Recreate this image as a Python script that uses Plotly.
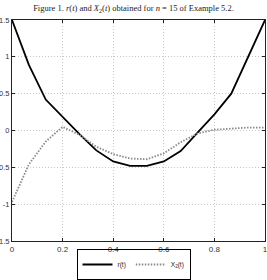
import plotly.graph_objects as go

t = [k / 15 for k in range(16)]
r_vals = [1.5, 0.89, 0.42, 0.18, -0.05, -0.27, -0.42, -0.48, -0.48, -0.42, -0.28, -0.03, 0.22, 0.5, 1.0, 1.5]
x2_vals = [-0.97, -0.46, -0.15, 0.05, -0.06, -0.22, -0.32, -0.38, -0.39, -0.31, -0.16, -0.04, 0.01, 0.03, 0.04, 0.04]
xticks = [0, 0.2, 0.4, 0.6, 0.8, 1]
yticks = [-1.5, -1, -0.5, 0, 0.5, 1, 1.5]

fig = go.Figure()
fig.add_trace(go.Scatter(x=t, y=r_vals, mode="lines", name="r(t)",
                         line=dict(color="black", width=1.8)))
fig.add_trace(go.Scatter(x=t, y=x2_vals, mode="lines", name="X<sub>2</sub>(t)",
                         line=dict(color="#8a8a8a", width=1.8, dash="1.5px,1.5px")))

axis_common = dict(showline=True, linecolor="#222", linewidth=1, mirror="allticks",
                   ticks="inside", ticklen=3, tickcolor="#222", automargin=False,
                   ticklabeloverflow="allow",
                   showgrid=True, gridcolor="#c8c8c8", griddash="1px,2px", gridwidth=1,
                   zeroline=False, tickfont=dict(family="Liberation Sans", size=8, color="#333"))

fig.update_xaxes(range=[0, 1], tickvals=xticks, ticktext=[f"{v:g}" for v in xticks], **axis_common)
fig.update_yaxes(range=[-1.5, 1.5], tickvals=yticks, ticktext=[f"{v:g}" for v in yticks], **axis_common)
fig.update_yaxes(tickfont=dict(size=7.5))

fig.update_layout(
    width=267, height=280,
    margin=dict(l=12, r=2, t=20, b=39, autoexpand=False),
    plot_bgcolor="white", paper_bgcolor="white",
    title=dict(text="Figure 1. <i>r</i>(<i>t</i>) and <i>X</i><sub>2</sub>(<i>t</i>) obtained for <i>n</i> = 15 of Example 5.2.",
               x=0.5, xanchor="center", y=0.972, yanchor="middle",
               font=dict(family="Liberation Serif", size=8.5, color="#222")),
    showlegend=True,
    legend=dict(orientation="h", x=0.5, xanchor="center", xref="container",
                y=-0.008, yanchor="bottom", yref="container",
                bordercolor="black", borderwidth=1, bgcolor="rgba(0,0,0,0)",
                font=dict(family="Liberation Sans", size=6.5, color="#222"),
                itemwidth=30, tracegroupgap=0),
)

fig.write_html("out.html")
